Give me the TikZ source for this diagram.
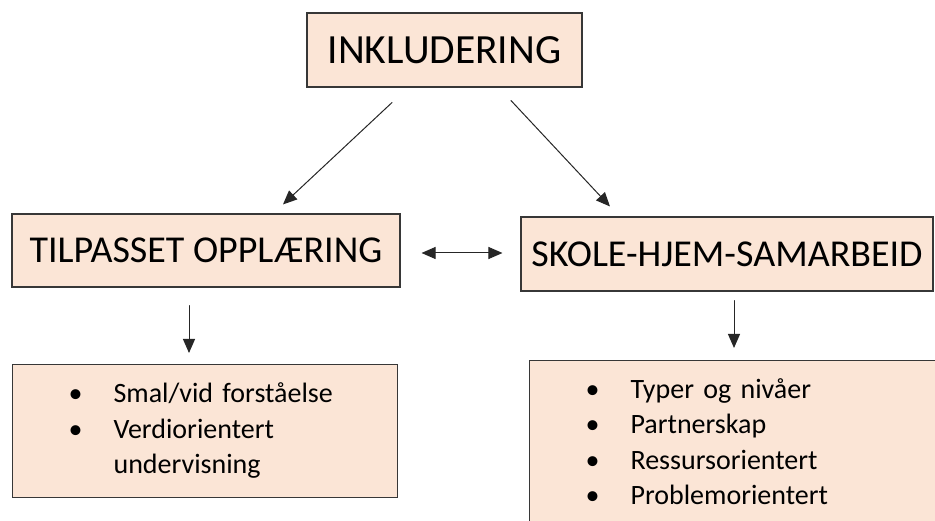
\documentclass[tikz,border=0pt]{standalone}
\usepackage{fontspec}
\setmainfont{Carlito}
\usetikzlibrary{arrows.meta}
\definecolor{boxfill}{RGB}{251,229,214}
\definecolor{boxline}{RGB}{55,55,55}
\newcommand{\bul}{\makebox[45pt][l]{\textbullet}}
\begin{document}
\begin{tikzpicture}[line cap=round,x=1pt,y=-1pt,>={Triangle[length=14pt,width=12pt]},
  headbox/.style={draw=boxline,line width=1.1pt,fill=boxfill,inner sep=0pt,font=\fontsize{38}{44}\selectfont},
  listbox/.style={draw=boxline,line width=1.1pt,fill=boxfill,font=\fontsize{28}{35.5}\selectfont,
    align=left,anchor=north west,inner xsep=56pt,text width=320pt},
  arr/.style={line width=1pt,draw=black!85}]
\useasboundingbox (0,0) rectangle (935,521);
\clip (0,0) rectangle (935,521);
\node[headbox,minimum width=275pt,minimum height=74pt,font=\fontsize{41.5}{48}\selectfont] (incl) at (444.5,50) {INKLUDERING};
\node[headbox,minimum width=388pt,minimum height=73pt] (tilp) at (206,250.5) {TILPASSET OPPLÆRING};
\node[headbox,minimum width=412pt,minimum height=74pt] (shs) at (727,254) {SKOLE-HJEM-SAMARBEID};
\node[listbox,text width=273pt,inner ysep=18.5pt] (tilpl) at (12,364)
  {\bul Smal/vid forståelse\\ \bul Verdiorientert\\ \hspace*{45pt}undervisning};
\node[listbox,inner ysep=18pt] (shsl) at (529,360)
  {\bul Typer og nivåer\\ \bul Partnerskap\\ \bul Ressursorientert\\ \bul Problemorientert};
% piler
\draw[arr,->] ([shift={(-52.5,15)}]incl.south) -- ([shift={(77,-9)}]tilp.north);
\draw[arr,->] ([shift={(66.5,13)}]incl.south) -- ([shift={(-117,-10)}]shs.north);
\draw[arr,<->,shorten <=21pt,shorten >=18pt] (tilp.east |- 0,253) -- (shs.west |- 0,253);
\draw[arr,->,shorten <=18pt,shorten >=11pt] (189,0 |- tilp.south) -- (189,0 |- tilpl.north);
\draw[arr,->,shorten <=9pt,shorten >=12pt] (734,0 |- shs.south) -- (734,0 |- shsl.north);
\end{tikzpicture}
\end{document}
